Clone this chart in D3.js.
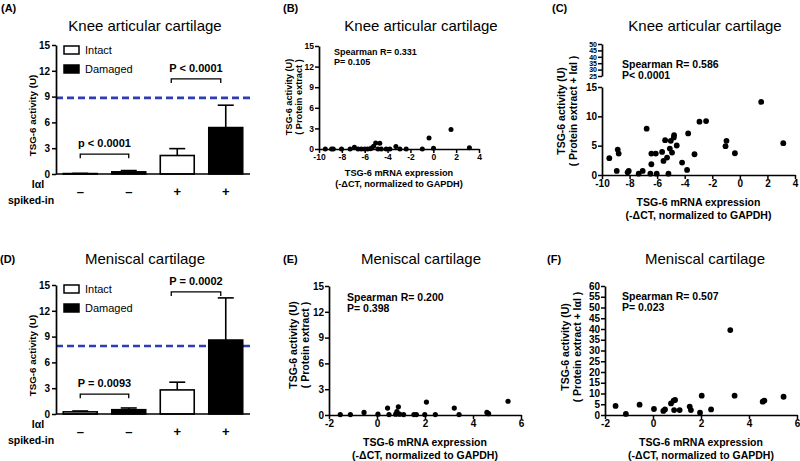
<!DOCTYPE html>
<html><head><meta charset="utf-8">
<script src="https://cdn.jsdelivr.net/npm/d3@7"></script>
<style>body{margin:0;background:#fff} svg{display:block}</style>
</head><body><svg id="c" width="800" height="461"></svg>
<script>
// ---------------- DATA ----------------
const barCategories = ["Intact", "Damaged", "Intact", "Damaged"];
const spikedInSigns = ["–", "–", "+", "+"];
const kneeBarMeans = [0.05, 0.25, 2.15, 5.4];
const kneeBarUpper = [0.07, 0.4, 2.95, 8.0];
const kneeRefLine = 8.85;
const kneeBrackets = [[0, 1, 2.3, "p < 0.0001"], [2, 3, 11.05, "P < 0.0001"]];
const menBarMeans = [0.25, 0.5, 2.8, 8.6];
const menBarUpper = [0.35, 0.7, 3.7, 13.5];
const menRefLine = 7.9;
const menBrackets = [[0, 1, 2.3, "P = 0.0093"], [2, 3, 14.2, "P = 0.0002"]];
const barYTicks = [0, 3, 6, 9, 12, 15];

const kneeProtein = [[-9.45,0],[-8.9,0],[-8.75,0],[-8.03,0],[-7.28,0],[-6.9,0.25],[-6.58,0],[-6.3,0],[-6.0,0],[-5.75,0],[-5.5,0.05],
  [-5.4,0.15],[-5.22,0.4],[-5.04,0.87],[-4.84,0],[-4.68,0.82],[-4.55,0],[-4.12,0],[-3.8,0],[-3.27,0.35],[-2.92,0],[-2.37,0],
  [-0.96,0],[-0.37,1.62],[0.02,0.1],[1.55,2.85],[3.16,0.18]];
const kneeSpiked = [[-9.47,2.86],[-8.93,0.69],[-8.86,4.34],[-8.79,3.66],[-8.14,0.46],[-8.06,0.69],[-7.34,0.23],[-7.05,0.69],
  [-6.76,7.9],[-6.42,3.66],[-6.42,1.83],[-6.49,0.23],[-6.1,3.66],[-6.03,0.23],[-5.64,3.94],[-5.54,2.4],[-5.42,5.94],[-5.28,2.97],
  [-5.18,0.23],[-5.08,4.51],[-5.01,5.83],[-4.79,6.4],[-4.77,6.8],[-4.92,3.83],[-4.58,5.03],[-4.19,2.11],[-3.83,0.86],[-3.75,7.09],
  [-3.29,3.54],[-2.93,9.09],[-2.45,9.2],[-1.04,4.91],[-0.97,5.83],[-0.36,3.71],[1.55,12.46],[3.15,5.43]];
const menProtein = [[-1.53,0.05],[-1.11,0.05],[-0.54,0.3],[0.04,0.1],[0.44,0.8],[0.5,0.05],[0.78,0.1],[0.89,0.95],[0.83,0.4],
  [0.94,0.1],[1.11,0.05],[1.54,0.05],[1.64,0.05],[1.99,0.05],[2.06,1.5],[2.43,0.05],[3.22,0.8],[3.42,0.05],[4.58,0.3],[4.65,0.15],[5.46,1.6]];
const menSpiked = [[-1.56,4.2],[-1.13,0.5],[-0.56,4.8],[0.04,2.8],[0.43,1.9],[0.5,2.6],[0.75,5.4],[0.86,6.7],[0.92,7.0],[0.88,2.3],
  [1.11,2.3],[1.53,3.9],[1.58,2.3],[1.96,1.1],[2.03,9.0],[2.42,2.6],[3.22,39.5],[3.4,9.0],[4.57,6.2],[4.64,6.7],[5.44,8.5]];

const kneeXTicks = [-10, -8, -6, -4, -2, 0, 2, 4];
const menXTicks = [-2, 0, 2, 4, 6];
const proteinYTicks = [0, 3, 6, 9, 12, 15];
const kneeSpikedYTicks = [0, 5, 10, 15];
const kneeSpikedUpperTicks = [25, 30, 35, 40, 45, 50];
const menSpikedYTicks = [0, 5, 10, 15, 20, 25, 30, 35, 40, 45, 50, 55, 60];

// ---------------- DRAW ----------------
const FONT = '"Liberation Sans", Arial, Helvetica, sans-serif';
const svg = d3.select("#c");
svg.append("rect").attr("width", 800).attr("height", 461).attr("fill", "#fff");

function txt(g, x, y, s, size, opts = {}) {
  const t = g.append("text").attr("x", x).attr("y", y).text(s)
    .attr("font-family", FONT).attr("font-size", size)
    .attr("font-weight", opts.bold ? "bold" : "normal")
    .attr("text-anchor", opts.anchor || "start").attr("fill", "#000");
  if (opts.rotate) t.attr("transform", `rotate(-90,${x},${y})`);
  return t;
}
function styleAxis(sel, fs) {
  sel.select("path.domain").attr("stroke", "#000").attr("stroke-width", 1.7);
  sel.selectAll(".tick line").attr("stroke", "#000").attr("stroke-width", 1.5);
  sel.selectAll(".tick text").attr("font-family", FONT).attr("font-weight", "bold")
    .attr("font-size", fs).attr("fill", "#000");
}

function barPanel(o) {
  const g = svg.append("g");
  const x = d3.scaleBand().domain(d3.range(4)).range([o.left, o.right]).paddingInner(0.3).paddingOuter(0.15);
  const y = d3.scaleLinear().domain([0, 15]).range([o.bottom, o.top]);
  const bw = x.bandwidth();
  g.append("line").attr("x1", o.left).attr("x2", o.right)
    .attr("y1", y(o.ref)).attr("y2", y(o.ref))
    .attr("stroke", "#2f3db5").attr("stroke-width", 2.6).attr("stroke-dasharray", "7,4");
  o.upper.forEach((u, i) => {
    const cx = x(i) + bw / 2;
    g.append("line").attr("x1", cx).attr("x2", cx).attr("y1", y(o.means[i])).attr("y2", y(u))
      .attr("stroke", "#000").attr("stroke-width", 1.6);
    g.append("line").attr("x1", cx - 8).attr("x2", cx + 8).attr("y1", y(u)).attr("y2", y(u))
      .attr("stroke", "#000").attr("stroke-width", 1.6);
  });
  g.selectAll("rect.bar").data(o.means).join("rect").attr("class", "bar")
    .attr("x", (d, i) => x(i)).attr("width", bw)
    .attr("y", d => y(d)).attr("height", d => Math.max(0.5, y(0) - y(d)))
    .attr("fill", (d, i) => barCategories[i] === "Intact" ? "#fff" : "#000")
    .attr("stroke", "#000").attr("stroke-width", 1.6);
  const ya = g.append("g").attr("transform", `translate(${o.left},0)`)
    .call(d3.axisLeft(y).tickValues(barYTicks).tickSize(4).tickSizeOuter(0).tickPadding(2));
  styleAxis(ya, 10);
  g.append("line").attr("x1", o.left).attr("x2", o.right).attr("y1", y(0)).attr("y2", y(0))
    .attr("stroke", "#000").attr("stroke-width", 1.7);
  o.brackets.forEach(([a, b, v, lab], k) => {
    const x1 = x(a) + bw / 2 - (k ? 6 : 0), x2 = x(b) + bw / 2 - (k ? 5 : 0), yy = y(v);
    g.append("path").attr("d", `M${x1},${yy + 4}V${yy}H${x2}V${yy + 4}`)
      .attr("fill", "none").attr("stroke", "#000").attr("stroke-width", 1.3);
    txt(g, (x1 + x2) / 2, yy - 7, lab, 11, { bold: true, anchor: "middle" });
  });
  [["Intact", "#fff"], ["Damaged", "#000"]].forEach(([lab, c], i) => {
    const ly = o.legendY + i * 19;
    g.append("rect").attr("x", 64).attr("y", ly).attr("width", 15).attr("height", 8)
      .attr("fill", c).attr("stroke", "#000").attr("stroke-width", 1.5);
    txt(g, 85, ly + 8, lab, 11);
  });
  spikedInSigns.forEach((s, i) => txt(g, x(i) + bw / 2, o.bottom + 22, s, 13, { bold: true, anchor: "middle" }));
  txt(g, 38, o.bottom + 14, "IαI", 10.5, { bold: true, anchor: "middle" });
  txt(g, 31, o.bottom + 30, "spiked-in", 10.5, { bold: true, anchor: "middle" });
  txt(g, 36, (o.top + o.bottom) / 2 + 6, "TSG-6 activity (U)", 9.8, { bold: true, anchor: "middle", rotate: true });
  txt(g, 145, o.titleY, o.title, 15, { anchor: "middle" });
  txt(g, o.labX, o.labY, o.lab, 11, { bold: true });
}

function scatterPanel(o) {
  const g = svg.append("g");
  const x = d3.scaleLinear().domain([o.xTicks[0], o.xTicks[o.xTicks.length - 1]]).range([o.left, o.right]);
  const y = d3.scaleLinear().domain(o.yDomain).range([o.bottom, o.top]);
  const xa = g.append("g").attr("transform", `translate(0,${o.bottom})`)
    .call(d3.axisBottom(x).tickValues(o.xTicks).tickFormat(d => String(d)).tickSize(4).tickSizeOuter(0).tickPadding(1));
  styleAxis(xa, o.tickFs);
  const ya = g.append("g").attr("transform", `translate(${o.left},0)`)
    .call(d3.axisLeft(y).tickValues(o.yTicks).tickSize(4).tickSizeOuter(0).tickPadding(1));
  styleAxis(ya, o.tickFs);
  if (o.upper) {
    const yu = d3.scaleLinear().domain([25, 50]).range([o.upper[0], o.upper[1]]);
    const ua = g.append("g").attr("transform", `translate(${o.left},0)`)
      .call(d3.axisLeft(yu).tickValues(kneeSpikedUpperTicks).tickSize(4).tickSizeOuter(0).tickPadding(1));
    styleAxis(ua, 7);
  }
  g.selectAll("circle").data(o.data).join("circle")
    .attr("cx", d => x(d[0])).attr("cy", d => y(d[1])).attr("r", o.r).attr("fill", "#000");
  txt(g, o.statX, o.statY, o.stat[0], o.statFs, { bold: true });
  txt(g, o.statX, o.statY + o.statFs + 0.5, o.stat[1], o.statFs, { bold: true });
  const cx = (o.left + o.right) / 2;
  txt(g, cx, o.xlabY, "TSG-6 mRNA expression", o.labFs, { bold: true, anchor: "middle" });
  txt(g, cx, o.xlabY + o.labFs + 2, "(-ΔCT, normalized to GAPDH)", o.labFs, { bold: true, anchor: "middle" });
  txt(g, o.ylabX, o.ylabCY, "TSG-6 activity (U)", o.labFs, { bold: true, anchor: "middle", rotate: true });
  txt(g, o.ylabX + o.labFs + 1, o.ylabCY, o.ylab2, o.labFs, { bold: true, anchor: "middle", rotate: true });
  txt(g, o.titleX, o.titleY, o.title, 15, { anchor: "middle" });
  txt(g, o.labX, o.labY, o.lab, 11, { bold: true });
}

barPanel({ left: 56, right: 250, top: 45, bottom: 174, means: kneeBarMeans, upper: kneeBarUpper, ref: kneeRefLine,
  brackets: kneeBrackets, legendY: 46, title: "Knee articular cartilage", titleY: 31, lab: "(A)", labX: 1, labY: 12 });
barPanel({ left: 56, right: 250, top: 285, bottom: 414, means: menBarMeans, upper: menBarUpper, ref: menRefLine,
  brackets: menBrackets, legendY: 285, title: "Meniscal cartilage", titleY: 264, lab: "(D)", labX: 0, labY: 263 });

scatterPanel({ left: 319, right: 479, top: 46, bottom: 149, xTicks: kneeXTicks, yDomain: [0, 15], yTicks: proteinYTicks,
  data: kneeProtein, r: 2.5, tickFs: 8.5, stat: ["Spearman R= 0.331", "P= 0.105"], statX: 334, statY: 55, statFs: 9,
  xlabY: 176, labFs: 9.2, ylabX: 292, ylabCY: 97, ylab2: "( Protein extract )",
  title: "Knee articular cartilage", titleX: 421, titleY: 31, lab: "(B)", labX: 283, labY: 12 });
scatterPanel({ left: 602, right: 795, top: 87, bottom: 175, xTicks: kneeXTicks, yDomain: [0, 15], yTicks: kneeSpikedYTicks,
  upper: [76, 44], data: kneeSpiked, r: 2.9, tickFs: 10, stat: ["Spearman R= 0.586", "P< 0.0001"], statX: 622, statY: 68, statFs: 10.5,
  xlabY: 206, labFs: 10.5, ylabX: 565, ylabCY: 111, ylab2: "( Protein  extract + IαI )",
  title: "Knee articular cartilage", titleX: 705, titleY: 31, lab: "(C)", labX: 552, labY: 12 });
scatterPanel({ left: 329, right: 521, top: 286, bottom: 415, xTicks: menXTicks, yDomain: [0, 15], yTicks: proteinYTicks,
  data: menProtein, r: 2.6, tickFs: 10, stat: ["Spearman R= 0.200", "P= 0.398"], statX: 347, statY: 301, statFs: 10.5,
  xlabY: 446, labFs: 10.5, ylabX: 297, ylabCY: 345, ylab2: "( Protein  extract )",
  title: "Meniscal cartilage", titleX: 421, titleY: 264, lab: "(E)", labX: 283, labY: 263 });
scatterPanel({ left: 605, right: 797, top: 286, bottom: 415, xTicks: menXTicks, yDomain: [0, 60], yTicks: menSpikedYTicks,
  data: menSpiked, r: 2.9, tickFs: 10, stat: ["Spearman R= 0.507", "P= 0.023"], statX: 622, statY: 300, statFs: 10.5,
  xlabY: 446, labFs: 10.5, ylabX: 569, ylabCY: 347, ylab2: "( Protein  extract + IαI )",
  title: "Meniscal cartilage", titleX: 705, titleY: 264, lab: "(F)", labX: 547, labY: 263 });
</script></body></html>
